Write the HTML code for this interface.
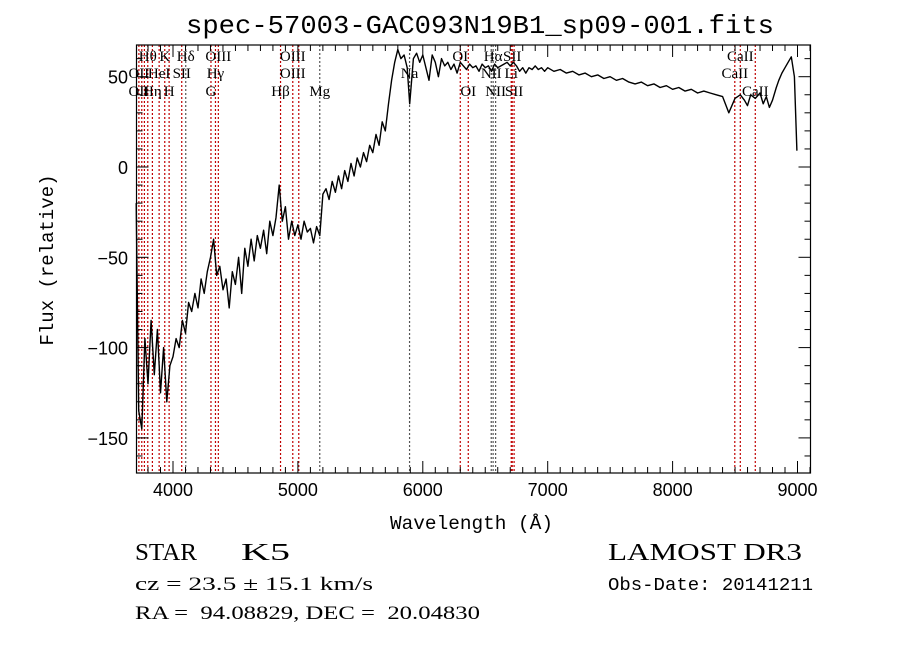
<!DOCTYPE html>
<html><head><meta charset="utf-8"><style>
html,body{margin:0;padding:0;background:#fff;}
svg{display:block;}
text{fill:#000;}
</style></head><body>
<svg id="chart" width="900" height="649" viewBox="0 0 900 649" xmlns="http://www.w3.org/2000/svg">
<rect width="900" height="649" fill="#fff"/>
<text x="186" y="33" textLength="588" lengthAdjust="spacingAndGlyphs" font-family="Liberation Mono, monospace" font-size="26">spec-57003-GAC093N19B1_sp09-001.fits</text>
<g id="lines"></g>
<g id="labels"></g>
<g id="series"></g>
<g id="axes"></g>
<text x="390" y="529" textLength="163" lengthAdjust="spacingAndGlyphs" font-family="Liberation Mono, monospace" font-size="19">Wavelength (Å)</text>
<text transform="translate(53,260) rotate(-90)" text-anchor="middle" font-family="Liberation Mono, monospace" font-size="19">Flux (relative)</text>
<text x="135" y="560" textLength="62" lengthAdjust="spacingAndGlyphs" font-family="Liberation Serif, serif" font-size="24">STAR</text>
<text x="241" y="560" textLength="49" lengthAdjust="spacingAndGlyphs" font-family="Liberation Serif, serif" font-size="24">K5</text>
<text x="135" y="590" textLength="238" lengthAdjust="spacingAndGlyphs" font-family="Liberation Serif, serif" font-size="19" xml:space="preserve">cz = 23.5 ± 15.1 km/s</text>
<text x="135" y="619" textLength="345" lengthAdjust="spacingAndGlyphs" font-family="Liberation Serif, serif" font-size="19" xml:space="preserve">RA =  94.08829, DEC =  20.04830</text>
<text x="608" y="560" textLength="194" lengthAdjust="spacingAndGlyphs" font-family="Liberation Serif, serif" font-size="24">LAMOST DR3</text>
<text x="608" y="590" textLength="205" lengthAdjust="spacingAndGlyphs" font-family="Liberation Mono, monospace" font-size="18">Obs-Date: 20141211</text>
</svg>
<script>
const wavelengths = [3705,3725,3750,3775,3800,3825,3850,3875,3900,3925,3950,3975,4000,4025,4050,4075,4100,4125,4150,4175,4200,4225,4250,4275,4300,4325,4350,4375,4400,4425,4450,4475,4500,4525,4550,4575,4600,4625,4650,4675,4700,4725,4750,4775,4800,4825,4850,4875,4900,4925,4950,4975,5000,5025,5050,5075,5100,5125,5150,5175,5200,5225,5250,5275,5300,5325,5350,5375,5400,5425,5450,5475,5500,5525,5550,5575,5600,5625,5650,5675,5700,5725,5750,5775,5800,5825,5850,5875,5895,5925,5950,5975,6000,6025,6050,6075,6100,6125,6150,6175,6200,6225,6250,6275,6300,6325,6350,6375,6400,6425,6450,6475,6500,6525,6550,6575,6600,6625,6650,6675,6700,6725,6750,6775,6800,6825,6850,6875,6900,6925,6950,6975,7000,7050,7100,7150,7200,7250,7300,7350,7400,7450,7500,7550,7600,7650,7700,7750,7800,7850,7900,7950,8000,8050,8100,8150,8200,8250,8300,8350,8400,8450,8500,8542,8575,8600,8625,8662,8700,8725,8750,8775,8800,8830,8850,8875,8900,8925,8950,8975,8995,9005,9010];
const fluxes = [-20,-135,-145,-95,-120,-85,-115,-90,-125,-100,-130,-110,-105,-95,-100,-85,-92,-75,-80,-70,-78,-62,-70,-58,-50,-40,-60,-55,-68,-62,-78,-58,-65,-50,-70,-45,-55,-40,-52,-38,-45,-35,-48,-30,-38,-28,-10,-30,-22,-40,-30,-38,-32,-40,-30,-36,-34,-42,-33,-38,-15,-12,-18,-8,-14,-5,-12,-2,-8,2,-5,5,0,8,3,12,8,18,12,25,20,35,48,58,65,60,62,55,35,60,63,58,62,55,48,62,58,50,60,56,58,54,57,52,58,56,54,57,55,56,53,57,55,56,53,57,55,56,57,58,56,58,56,53,55,52,55,54,56,54,55,53,55,53,54,52,53,51,52,50,51,49,50,48,49,47,46,47,45,46,44,45,43,44,42,43,41,42,41,40,39,30,38,40,37,34,40,38,41,35,39,33,37,44,48,52,55,58,61,50,9];
const xTicks = [4000,5000,6000,7000,8000,9000];
const yTicks = [-150,-100,-50,0,50];
const lineWaves = [3727,3750,3771,3798,3835,3889,3934,3969,4070,4102,4304,4340,4363,4861,4959,5007,5175,5894,6300,6364,6548,6563,6583,6708,6716,6731,8498,8542,8662];
const lineColors = ['r','r','r','r','r','r','r','r','r','k','r','r','r','r','r','r','k','k','r','r','k','k','k','r','r','r','r','r','r'];
const labelTexts = ['Hθ','K','Hδ','OIII','OII','HeI','SII','Hγ','OIII','OII','Hη','H','G','Hβ','Mg','OIII','Na','OI','OI','Hα','NII','Li','NII','SII','SII','CaII','CaII','CaII'];
const labelWaves = [3798,3934,4102,4363,3727,3889,4070,4340,4959,3727,3835,3969,4304,4861,5175,4959,5894,6300,6364,6563,6548,6708,6583,6716,6731,8542,8498,8662];
const labelRows = [0,0,0,0,1,1,1,1,1,2,2,2,2,2,2,0,1,0,2,0,1,1,2,0,2,0,1,2];

const NS='http://www.w3.org/2000/svg';
const L=136.5,R=810.5,T=45,B=473;
function xScale(w){return 173+(w-4000)*0.1249;}
function yScale(f){return 167-f*1.806;}
function mk(tag,attrs,parent){const e=document.createElementNS(NS,tag);for(const k in attrs)e.setAttribute(k,attrs[k]);parent.appendChild(e);return e;}

const gl=document.getElementById('lines');
lineWaves.forEach((w,i)=>{
  const x=xScale(w);
  const ln=mk('line',{x1:x,x2:x,y1:T,y2:B,stroke:lineColors[i]==='r'?'#c00000':'#555','stroke-width':1.2,'stroke-dasharray':'2,2'},gl);
  
  
});
const glab=document.getElementById('labels');
const rowY=[61,78,96];
labelTexts.forEach((t,i)=>{
  const tx=mk('text',{x:xScale(labelWaves[i]),y:rowY[labelRows[i]],'text-anchor':'middle','font-family':'Liberation Serif, serif','font-size':15},glab);
  tx.textContent=t;
  
  
});
const gs=document.getElementById('series');
let d='';
wavelengths.forEach((w,i)=>{d+=(i?'L':'M')+xScale(w).toFixed(1)+','+Math.max(T,yScale(fluxes[i])).toFixed(1);});
const p=mk('path',{d:d,fill:'none',stroke:'#000','stroke-width':1.4,'stroke-linejoin':'round'},gs);



const ga=document.getElementById('axes');
const fr=mk('rect',{x:L,y:T,width:R-L,height:B-T,fill:'none',stroke:'#000','stroke-width':1.2},ga);


for(let w=3800;w<=9100;w+=100){
  const x=xScale(w);if(x<L||x>R)continue;
  const len=(w%1000===0)?12:6;
  mk('line',{x1:x,x2:x,y1:B,y2:B-len,stroke:'#000','stroke-width':1},ga);
  mk('line',{x1:x,x2:x,y1:T,y2:T+len,stroke:'#000','stroke-width':1},ga);
}
xTicks.forEach(w=>{
  const t=mk('text',{x:xScale(w),y:B+23,'text-anchor':'middle','font-family':'Liberation Sans, sans-serif','font-size':18},ga);
  t.textContent=String(w);
  
  
});
for(let f=-160;f<=60;f+=10){
  const y=yScale(f);if(y<T||y>B)continue;
  const len=(f%50===0)?12:6;
  mk('line',{x1:L,x2:L+len,y1:y,y2:y,stroke:'#000','stroke-width':1},ga);
  mk('line',{x1:R,x2:R-len,y1:y,y2:y,stroke:'#000','stroke-width':1},ga);
}
yTicks.forEach(f=>{
  const t=mk('text',{x:128,y:yScale(f)+7,'text-anchor':'end','font-family':'Liberation Sans, sans-serif','font-size':18},ga);
  t.textContent=String(f).replace('-','−');
  
  
});
</script>
</body></html>
